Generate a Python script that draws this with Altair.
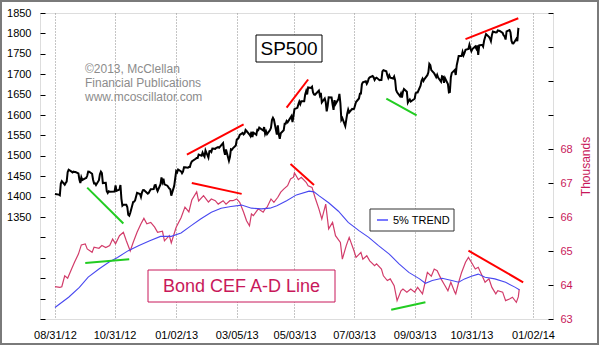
import altair as alt
import pandas as pd

# ---------------- data ----------------
sp500_2012 = [
    ("2012-08-31", 1406.58), ("2012-09-04", 1404.94), ("2012-09-05", 1403.44), ("2012-09-06", 1432.12),
    ("2012-09-07", 1437.92), ("2012-09-10", 1429.08), ("2012-09-11", 1433.56), ("2012-09-12", 1436.56),
    ("2012-09-13", 1459.99), ("2012-09-14", 1465.77), ("2012-09-17", 1461.19), ("2012-09-18", 1459.32),
    ("2012-09-19", 1461.05), ("2012-09-20", 1460.26), ("2012-09-21", 1460.15), ("2012-09-24", 1456.89),
    ("2012-09-25", 1441.59), ("2012-09-26", 1433.32), ("2012-09-27", 1447.15), ("2012-09-28", 1440.67),
    ("2012-10-01", 1444.49), ("2012-10-02", 1445.75), ("2012-10-03", 1450.99), ("2012-10-04", 1461.40),
    ("2012-10-05", 1460.93), ("2012-10-08", 1455.88), ("2012-10-09", 1441.48), ("2012-10-10", 1432.56),
    ("2012-10-11", 1432.84), ("2012-10-12", 1428.59), ("2012-10-15", 1440.13), ("2012-10-16", 1454.92),
    ("2012-10-17", 1460.91), ("2012-10-18", 1457.34), ("2012-10-19", 1433.19), ("2012-10-22", 1433.82),
    ("2012-10-23", 1413.11), ("2012-10-24", 1408.75), ("2012-10-25", 1412.97), ("2012-10-26", 1411.94),
    ("2012-10-31", 1412.16), ("2012-11-01", 1427.59), ("2012-11-02", 1414.20), ("2012-11-05", 1417.26),
    ("2012-11-06", 1428.39), ("2012-11-07", 1394.53), ("2012-11-08", 1377.51), ("2012-11-09", 1379.85),
    ("2012-11-12", 1380.03), ("2012-11-13", 1374.53), ("2012-11-14", 1355.49), ("2012-11-15", 1353.33),
    ("2012-11-16", 1359.88), ("2012-11-19", 1386.89), ("2012-11-20", 1387.81), ("2012-11-21", 1391.03),
    ("2012-11-23", 1409.15), ("2012-11-26", 1406.29), ("2012-11-27", 1398.94), ("2012-11-28", 1409.93),
    ("2012-11-29", 1415.95), ("2012-11-30", 1416.18), ("2012-12-03", 1409.46), ("2012-12-04", 1407.05),
    ("2012-12-05", 1409.28), ("2012-12-06", 1413.94), ("2012-12-07", 1418.07), ("2012-12-10", 1418.55),
    ("2012-12-11", 1427.84), ("2012-12-12", 1428.48), ("2012-12-13", 1419.45), ("2012-12-14", 1413.58),
    ("2012-12-17", 1430.36), ("2012-12-18", 1446.79), ("2012-12-19", 1435.81), ("2012-12-20", 1443.69),
    ("2012-12-21", 1430.15), ("2012-12-24", 1426.66), ("2012-12-26", 1419.83), ("2012-12-27", 1418.10),
    ("2012-12-28", 1402.43), ("2012-12-31", 1426.19),
]
sp500_2013 = [
    ("2013-01-02", 1462.42), ("2013-01-03", 1459.37), ("2013-01-04", 1466.47), ("2013-01-07", 1461.89),
    ("2013-01-08", 1457.15), ("2013-01-09", 1461.02), ("2013-01-10", 1472.12), ("2013-01-11", 1472.05),
    ("2013-01-14", 1470.68), ("2013-01-15", 1472.34), ("2013-01-16", 1472.63), ("2013-01-17", 1480.94),
    ("2013-01-18", 1485.98), ("2013-01-22", 1492.56), ("2013-01-23", 1494.81), ("2013-01-24", 1494.82),
    ("2013-01-25", 1502.96), ("2013-01-28", 1500.18), ("2013-01-29", 1507.84), ("2013-01-30", 1501.96),
    ("2013-01-31", 1498.11), ("2013-02-01", 1513.17), ("2013-02-04", 1495.71), ("2013-02-05", 1511.29),
    ("2013-02-06", 1512.12), ("2013-02-07", 1509.39), ("2013-02-08", 1517.93), ("2013-02-11", 1517.01),
    ("2013-02-12", 1519.43), ("2013-02-13", 1520.33), ("2013-02-14", 1521.38), ("2013-02-15", 1519.79),
    ("2013-02-19", 1530.94), ("2013-02-20", 1511.95), ("2013-02-21", 1502.42), ("2013-02-22", 1515.60),
    ("2013-02-25", 1487.85), ("2013-02-26", 1496.94), ("2013-02-27", 1515.99), ("2013-02-28", 1514.68),
    ("2013-03-01", 1518.20), ("2013-03-04", 1525.20), ("2013-03-05", 1539.79), ("2013-03-06", 1541.46),
    ("2013-03-07", 1544.26), ("2013-03-08", 1551.18), ("2013-03-11", 1556.22), ("2013-03-12", 1552.48),
    ("2013-03-13", 1554.52), ("2013-03-14", 1563.23), ("2013-03-15", 1560.70), ("2013-03-18", 1552.10),
    ("2013-03-19", 1548.34), ("2013-03-20", 1558.71), ("2013-03-21", 1545.80), ("2013-03-22", 1556.89),
    ("2013-03-25", 1551.69), ("2013-03-26", 1563.77), ("2013-03-27", 1562.85), ("2013-03-28", 1569.19),
    ("2013-04-01", 1562.17), ("2013-04-02", 1570.25), ("2013-04-03", 1553.69), ("2013-04-04", 1559.98),
    ("2013-04-05", 1553.28), ("2013-04-08", 1563.07), ("2013-04-09", 1568.61), ("2013-04-10", 1587.73),
    ("2013-04-11", 1593.37), ("2013-04-12", 1588.85), ("2013-04-15", 1552.36), ("2013-04-16", 1574.57),
    ("2013-04-17", 1552.01), ("2013-04-18", 1541.61), ("2013-04-19", 1555.25), ("2013-04-22", 1562.50),
    ("2013-04-23", 1578.78), ("2013-04-24", 1578.79), ("2013-04-25", 1585.16), ("2013-04-26", 1582.24),
    ("2013-04-29", 1593.61), ("2013-04-30", 1597.57), ("2013-05-01", 1582.70), ("2013-05-02", 1597.59),
    ("2013-05-03", 1614.42), ("2013-05-06", 1617.50), ("2013-05-07", 1625.96), ("2013-05-08", 1632.69),
    ("2013-05-09", 1626.67), ("2013-05-10", 1633.70), ("2013-05-13", 1633.77), ("2013-05-14", 1650.34),
    ("2013-05-15", 1658.78), ("2013-05-16", 1650.47), ("2013-05-17", 1667.47), ("2013-05-20", 1666.29),
    ("2013-05-21", 1669.16), ("2013-05-22", 1655.35), ("2013-05-23", 1650.51), ("2013-05-24", 1649.60),
    ("2013-05-28", 1660.06), ("2013-05-29", 1648.36), ("2013-05-30", 1654.41), ("2013-05-31", 1630.74),
    ("2013-06-03", 1640.42), ("2013-06-04", 1631.38), ("2013-06-05", 1608.90), ("2013-06-06", 1622.56),
    ("2013-06-07", 1643.38), ("2013-06-10", 1642.81), ("2013-06-11", 1626.13), ("2013-06-12", 1612.52),
    ("2013-06-13", 1636.36), ("2013-06-14", 1626.73), ("2013-06-17", 1639.04), ("2013-06-18", 1651.81),
    ("2013-06-19", 1628.93), ("2013-06-20", 1588.19), ("2013-06-21", 1592.43), ("2013-06-24", 1573.09),
    ("2013-06-25", 1588.03), ("2013-06-26", 1603.26), ("2013-06-27", 1613.20), ("2013-06-28", 1606.28),
    ("2013-07-01", 1614.96), ("2013-07-02", 1614.08), ("2013-07-03", 1615.41), ("2013-07-05", 1631.89),
    ("2013-07-08", 1640.46), ("2013-07-09", 1652.32), ("2013-07-10", 1652.62), ("2013-07-11", 1675.02),
    ("2013-07-12", 1680.19), ("2013-07-15", 1682.50), ("2013-07-16", 1676.26), ("2013-07-17", 1680.91),
    ("2013-07-18", 1689.37), ("2013-07-19", 1692.09), ("2013-07-22", 1695.53), ("2013-07-23", 1692.39),
    ("2013-07-24", 1685.94), ("2013-07-25", 1690.25), ("2013-07-26", 1691.65), ("2013-07-29", 1685.33),
    ("2013-07-30", 1685.96), ("2013-07-31", 1685.73), ("2013-08-01", 1706.87), ("2013-08-02", 1709.67),
    ("2013-08-05", 1707.14), ("2013-08-06", 1697.37), ("2013-08-07", 1690.91), ("2013-08-08", 1697.48),
    ("2013-08-09", 1691.42), ("2013-08-12", 1689.47), ("2013-08-13", 1694.16), ("2013-08-14", 1685.39),
    ("2013-08-15", 1661.32), ("2013-08-16", 1655.83), ("2013-08-19", 1646.06), ("2013-08-20", 1652.35),
    ("2013-08-21", 1642.80), ("2013-08-22", 1656.96), ("2013-08-23", 1663.50), ("2013-08-26", 1656.78),
    ("2013-08-27", 1630.48), ("2013-08-28", 1634.96), ("2013-08-29", 1638.17), ("2013-08-30", 1632.97),
    ("2013-09-03", 1639.77), ("2013-09-04", 1653.08), ("2013-09-05", 1655.08), ("2013-09-06", 1655.17),
    ("2013-09-09", 1671.71), ("2013-09-10", 1683.99), ("2013-09-11", 1689.13), ("2013-09-12", 1683.42),
    ("2013-09-13", 1687.99), ("2013-09-16", 1697.60), ("2013-09-17", 1704.76), ("2013-09-18", 1725.52),
    ("2013-09-19", 1722.34), ("2013-09-20", 1709.91), ("2013-09-23", 1701.84), ("2013-09-24", 1697.42),
    ("2013-09-25", 1692.77), ("2013-09-26", 1698.67), ("2013-09-27", 1691.75), ("2013-09-30", 1681.55),
    ("2013-10-01", 1695.00), ("2013-10-02", 1693.87), ("2013-10-03", 1678.66), ("2013-10-04", 1690.50),
    ("2013-10-07", 1676.12), ("2013-10-08", 1655.45), ("2013-10-09", 1656.40), ("2013-10-10", 1692.56),
    ("2013-10-11", 1703.20), ("2013-10-14", 1710.14), ("2013-10-15", 1698.06), ("2013-10-16", 1721.54),
    ("2013-10-17", 1733.15), ("2013-10-18", 1744.50), ("2013-10-21", 1744.66), ("2013-10-22", 1754.67),
    ("2013-10-23", 1746.38), ("2013-10-24", 1752.07), ("2013-10-25", 1759.77), ("2013-10-28", 1762.11),
    ("2013-10-29", 1771.95), ("2013-10-30", 1763.31), ("2013-10-31", 1756.54), ("2013-11-01", 1761.64),
    ("2013-11-04", 1767.93), ("2013-11-05", 1762.97), ("2013-11-06", 1770.49), ("2013-11-07", 1747.15),
    ("2013-11-08", 1770.61), ("2013-11-11", 1771.89), ("2013-11-12", 1767.69), ("2013-11-13", 1782.00),
    ("2013-11-14", 1790.62), ("2013-11-15", 1798.18), ("2013-11-18", 1791.53), ("2013-11-19", 1787.87),
    ("2013-11-20", 1781.37), ("2013-11-21", 1795.85), ("2013-11-22", 1804.76), ("2013-11-25", 1802.48),
    ("2013-11-26", 1802.75), ("2013-11-27", 1807.23), ("2013-11-29", 1805.81), ("2013-12-02", 1800.90),
    ("2013-12-03", 1795.15), ("2013-12-04", 1792.81), ("2013-12-05", 1785.03), ("2013-12-06", 1805.09),
    ("2013-12-09", 1808.37), ("2013-12-10", 1802.62), ("2013-12-11", 1782.22), ("2013-12-12", 1775.50),
    ("2013-12-13", 1775.32), ("2013-12-16", 1786.54), ("2013-12-17", 1781.00), ("2013-12-18", 1810.65),
    ("2013-12-19", 1809.60),
]

# Bond CEF A-D Line (thousands)
ad_line = [
    ("2012-08-31", 63.95), ("2012-09-05", 63.93), ("2012-09-07", 63.95), ("2012-09-10", 64.27),
    ("2012-09-13", 64.20), ("2012-09-17", 64.47), ("2012-09-20", 64.67), ("2012-09-24", 64.91),
    ("2012-09-27", 65.18), ("2012-10-01", 65.21), ("2012-10-03", 65.06), ("2012-10-08", 64.96),
    ("2012-10-10", 65.11), ("2012-10-15", 65.08), ("2012-10-18", 65.16), ("2012-10-22", 65.10),
    ("2012-10-26", 65.16), ("2012-10-29", 65.35), ("2012-11-01", 65.21), ("2012-11-05", 65.45),
    ("2012-11-09", 65.55), ("2012-11-12", 65.30), ("2012-11-16", 65.00), ("2012-11-19", 65.25),
    ("2012-11-23", 65.55), ("2012-11-27", 65.80), ("2012-11-30", 65.96), ("2012-12-03", 65.80),
    ("2012-12-07", 65.84), ("2012-12-11", 65.70), ("2012-12-14", 65.55), ("2012-12-19", 65.58),
    ("2012-12-21", 65.30), ("2012-12-26", 65.45), ("2012-12-28", 65.24), ("2013-01-02", 65.70),
    ("2013-01-07", 65.98), ("2013-01-11", 66.29), ("2013-01-15", 66.15), ("2013-01-18", 66.50),
    ("2013-01-23", 66.74), ("2013-01-25", 66.47), ("2013-01-30", 66.63), ("2013-02-04", 66.44),
    ("2013-02-07", 66.53), ("2013-02-11", 66.48), ("2013-02-14", 66.38), ("2013-02-19", 66.48),
    ("2013-02-22", 66.38), ("2013-02-26", 66.48), ("2013-03-01", 66.48), ("2013-03-05", 66.53),
    ("2013-03-08", 66.43), ("2013-03-12", 66.14), ("2013-03-15", 65.89), ("2013-03-18", 65.74),
    ("2013-03-20", 66.09), ("2013-03-22", 66.04), ("2013-03-27", 66.24), ("2013-04-01", 66.14),
    ("2013-04-03", 66.24), ("2013-04-05", 66.29), ("2013-04-09", 66.53), ("2013-04-12", 66.43),
    ("2013-04-16", 66.58), ("2013-04-19", 66.73), ("2013-04-22", 66.82), ("2013-04-26", 66.92),
    ("2013-04-29", 67.12), ("2013-05-02", 67.17), ("2013-05-03", 67.30), ("2013-05-07", 67.10),
    ("2013-05-10", 67.17), ("2013-05-15", 67.02), ("2013-05-17", 66.92), ("2013-05-21", 66.87),
    ("2013-05-24", 66.58), ("2013-05-28", 66.24), ("2013-05-31", 65.94), ("2013-06-04", 66.38),
    ("2013-06-07", 65.65), ("2013-06-11", 65.84), ("2013-06-14", 65.45), ("2013-06-19", 65.25),
    ("2013-06-21", 64.76), ("2013-06-25", 65.16), ("2013-06-28", 65.40), ("2013-07-03", 65.00),
    ("2013-07-05", 64.81), ("2013-07-10", 64.96), ("2013-07-12", 64.76), ("2013-07-16", 64.86),
    ("2013-07-19", 64.71), ("2013-07-24", 64.57), ("2013-07-26", 64.62), ("2013-07-31", 64.47),
    ("2013-08-02", 64.27), ("2013-08-06", 64.13), ("2013-08-09", 64.18), ("2013-08-13", 63.98),
    ("2013-08-16", 63.54), ("2013-08-20", 63.83), ("2013-08-22", 63.88), ("2013-08-26", 63.79),
    ("2013-08-30", 63.88), ("2013-09-03", 63.79), ("2013-09-06", 63.93), ("2013-09-11", 63.74),
    ("2013-09-16", 64.37), ("2013-09-20", 64.26), ("2013-09-23", 64.47), ("2013-09-26", 64.42),
    ("2013-09-30", 64.18), ("2013-10-03", 64.03), ("2013-10-07", 63.83), ("2013-10-10", 64.08),
    ("2013-10-14", 63.79), ("2013-10-15", 63.74), ("2013-10-18", 64.08), ("2013-10-21", 64.37),
    ("2013-10-25", 64.67), ("2013-10-28", 64.81), ("2013-10-31", 64.67), ("2013-11-04", 64.47),
    ("2013-11-07", 64.52), ("2013-11-11", 64.27), ("2013-11-14", 64.08), ("2013-11-18", 64.18),
    ("2013-11-21", 63.93), ("2013-11-25", 63.74), ("2013-11-27", 63.83), ("2013-12-02", 63.79),
    ("2013-12-05", 63.54), ("2013-12-09", 63.59), ("2013-12-12", 63.64), ("2013-12-16", 63.49),
    ("2013-12-18", 63.65), ("2013-12-19", 63.88),
]

# 5% trend of the A-D line
trend_line = [
    ("2012-08-31", 63.34), ("2012-09-14", 63.64), ("2012-09-25", 63.93), ("2012-10-04", 64.23),
    ("2012-10-15", 64.47), ("2012-10-25", 64.67), ("2012-11-03", 64.81), ("2012-11-14", 65.01),
    ("2012-11-25", 65.16), ("2012-12-06", 65.30), ("2012-12-17", 65.43), ("2012-12-28", 65.43),
    ("2013-01-07", 65.53), ("2013-01-17", 65.74), ("2013-01-27", 65.94), ("2013-02-07", 66.14),
    ("2013-02-17", 66.26), ("2013-02-27", 66.31), ("2013-03-10", 66.35), ("2013-03-20", 66.26),
    ("2013-03-30", 66.24), ("2013-04-08", 66.26), ("2013-04-15", 66.33), ("2013-04-25", 66.48),
    ("2013-05-05", 66.65), ("2013-05-18", 66.76), ("2013-05-23", 66.74), ("2013-05-28", 66.63),
    ("2013-06-07", 66.42), ("2013-06-17", 66.17), ("2013-06-27", 65.84), ("2013-07-08", 65.60),
    ("2013-07-18", 65.40), ("2013-07-28", 65.16), ("2013-08-08", 64.91), ("2013-08-18", 64.62),
    ("2013-08-28", 64.37), ("2013-09-08", 64.18), ("2013-09-14", 64.05), ("2013-09-21", 64.13),
    ("2013-10-01", 64.20), ("2013-10-11", 64.13), ("2013-10-18", 64.08), ("2013-10-24", 64.18),
    ("2013-10-31", 64.26), ("2013-11-07", 64.32), ("2013-11-14", 64.23), ("2013-11-24", 64.18),
    ("2013-12-05", 64.08), ("2013-12-15", 63.93), ("2013-12-19", 63.86),
]

# hand-drawn divergence lines: (start date, start value, end date, end value, colour)
sp_marks = [
    ("2012-10-03", 1422, "2012-11-09", 1334, "#22cc22"),
    ("2013-01-13", 1503, "2013-03-12", 1577, "#ff0000"),
    ("2013-04-25", 1618, "2013-05-17", 1687, "#ff0000"),
    ("2013-08-05", 1640, "2013-09-05", 1599, "#22cc22"),
    ("2013-10-25", 1786, "2013-12-18", 1837, "#ff0000"),
]
ad_marks = [
    ("2012-10-01", 64.65, "2012-11-15", 64.76, "#22cc22"),
    ("2013-01-18", 67.00, "2013-03-10", 66.68, "#ff0000"),
    ("2013-04-29", 67.56, "2013-05-23", 66.94, "#ff0000"),
    ("2013-08-10", 63.27, "2013-09-14", 63.49, "#22cc22"),
    ("2013-10-28", 65.01, "2013-12-23", 64.08, "#ff0000"),
]

x_tick_dates = ["2012-08-31", "2012-10-31", "2013-01-02", "2013-03-05", "2013-05-03",
                "2013-07-03", "2013-09-03", "2013-10-31", "2014-01-02"]
left_ticks = list(range(1100, 1851, 50))
right_ticks = list(range(63, 73))
copyright_lines = ["\u00a92013, McClellan", "Financial Publications", "www.mcoscillator.com"]

# ---------------- build ----------------
W, H = 513, 306
CRIMSON = "#c8185a"
FONT = "Liberation Sans"

def ms(s):
    return int(pd.Timestamp(s, tz="UTC").value // 10**6)

sp_df = pd.DataFrame(sp500_2012 + sp500_2013, columns=["date", "v"])
ad_df = pd.DataFrame(ad_line, columns=["date", "v"])
tr_df = pd.DataFrame(trend_line, columns=["date", "v"])
spm_df = pd.DataFrame(sp_marks, columns=["date", "v", "date2", "v2", "c"])
adm_df = pd.DataFrame(ad_marks, columns=["date", "v", "date2", "v2", "c"])

x_scale = alt.Scale(type="utc", domain=[ms("2012-08-15 17:00"), ms("2014-01-22 12:00")])
x_axis = alt.Axis(values=[ms(d) for d in x_tick_dates],
                  labelExpr="utcFormat(datum.value, '%m/%d/%y')",
                  grid=True, gridDash=[1, 2], gridColor="#8a8a8a", gridWidth=1,
                  ticks=False, domain=False, labelFontSize=11, labelColor="#000",
                  labelPadding=10, labelFont=FONT, title=None)
X = alt.X("date:T", scale=x_scale, axis=x_axis, title=None)

left_axis = alt.Axis(orient="left", values=left_ticks,
                     labelExpr="datum.value >= 1350 ? format(datum.value, 'd') : ''",
                     offset=-5, tickSize=5, tickColor="#000", domain=False, grid=False,
                     labelPadding=9, labelFontSize=11, labelColor="#000", labelFont=FONT, title=None)
right_axis = alt.Axis(orient="right", values=right_ticks,
                      labelExpr="datum.value <= 68 ? format(datum.value, 'd') : ''",
                      offset=-5, tickSize=5, tickColor="#000", domain=False, grid=False,
                      labelPadding=7, labelFontSize=11, labelColor=CRIMSON, labelFont=FONT,
                      title="Thousands", titleColor=CRIMSON, titleFontSize=12, titleFont=FONT,
                      titleFontWeight="normal", titleAngle=270, titlePadding=20)

YL = alt.Y("v:Q", scale=alt.Scale(domain=[1100, 1850], nice=False, zero=False), axis=left_axis, title=None)
YR = alt.Y("v:Q", scale=alt.Scale(domain=[63, 72], nice=False, zero=False), axis=right_axis, title="Thousands")

sp_chart = alt.Chart(sp_df).mark_line(color="#000", strokeWidth=2).encode(x=X, y=YL)
sp_marks_chart = alt.Chart(spm_df).mark_rule(strokeWidth=2).encode(
    x=X, x2="date2:T", y=YL, y2="v2:Q", color=alt.Color("c:N", scale=None))
left_layer = alt.layer(sp_marks_chart, sp_chart)

ad_chart = alt.Chart(ad_df).mark_line(color="#d23c6a", strokeWidth=1.2).encode(x=X, y=YR)
tr_chart = alt.Chart(tr_df).mark_line(color="#4848f0", strokeWidth=1.1).encode(x=X, y=YR)
ad_marks_chart = alt.Chart(adm_df).mark_rule(strokeWidth=2).encode(
    x=X, x2="date2:T", y=YR, y2="v2:Q", color=alt.Color("c:N", scale=None))

one = pd.DataFrame({"k": [0]})

def box(x1, x2, y1, y2, stroke, sw=1):
    return alt.Chart(one).mark_rect(fill="white", stroke=stroke, strokeWidth=sw).encode(
        x=alt.value(x1), x2=alt.value(x2), y=alt.value(y1), y2=alt.value(y2))

def label(txt, x, y, size, color, align="center"):
    return alt.Chart(one).mark_text(text=txt, fontSize=size, color=color, font=FONT,
                                    align=align, baseline="middle").encode(
        x=alt.value(x), y=alt.value(y))

decor = [
    box(216, 282, 22, 49, "#000"),
    label("SP500", 249, 36, 19, "#000"),
    box(108, 295, 257, 289, CRIMSON),
    label("Bond CEF A-D Line", 201.5, 273.5, 18, CRIMSON),
    box(330, 414, 196, 218, "#333"),
    alt.Chart(one).mark_rule(color="#2020ff", strokeWidth=1.2).encode(
        x=alt.value(337), x2=alt.value(348), y=alt.value(207)),
    label("5% TREND", 353, 207.5, 11, "#000", align="left"),
]
copyright = [label(t, 45, 56 + 14 * i, 12, "#8c8c8c", align="left") for i, t in enumerate(copyright_lines)]
frame = alt.Chart(one).mark_rect(fill=None, stroke="#7a7a7a", strokeWidth=2).encode(
    x=alt.value(-39), x2=alt.value(558), y=alt.value(-12), y2=alt.value(331))

right_layer = alt.layer(ad_chart, tr_chart, ad_marks_chart, *copyright, *decor, frame)

chart = alt.layer(left_layer, right_layer).resolve_scale(y="independent").properties(
    width=W, height=H,
    autosize=alt.AutoSizeParams(type="none"),
    padding={"left": 40, "top": 13, "right": 47, "bottom": 28},
    background="white",
).configure_view(stroke="#9a9a9a", strokeWidth=1).configure(font=FONT)

chart.save("out.html", embed_options={"renderer": "svg", "actions": False})
